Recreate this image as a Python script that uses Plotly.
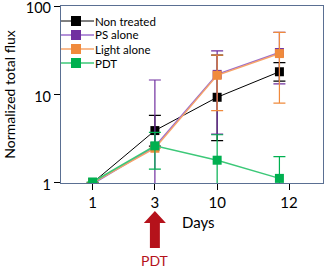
import plotly.graph_objects as go

days = ["1", "3", "10", "12"]
x_pos = [0, 1, 2, 3]
tick_pos = [0, 1, 2, 3.155]

non_treated = [1.0, 3.9, 9.3, 18.1]
non_treated_hi = [1.0, 5.8, 28.0, 23.0]
non_treated_lo = [1.0, 2.6, 3.0, 14.2]

ps_alone = [0.97, 2.57, 16.9, 29.9]
ps_alone_hi = [0.97, 14.6, 31.2, 50.5]
ps_alone_lo = [0.97, 0.9, 3.56, 13.2]

light_alone = [1.0, 2.46, 16.5, 29.1]
light_alone_hi = [1.0, 2.46, 27.9, 50.5]
light_alone_lo = [1.0, 2.46, 6.57, 8.0]

pdt = [1.02, 2.62, 1.80, 1.12]
pdt_hi = [1.02, 3.72, 3.5, 1.98]
pdt_lo = [1.02, 1.43, 0.9, 0.9]

series = [
    ("Non treated", non_treated, non_treated_hi, non_treated_lo, "#000000", "#000000", 1),
    ("PS alone", ps_alone, ps_alone_hi, ps_alone_lo, "#7030a0", "#9a6ccc", 1.5),
    ("Light alone", light_alone, light_alone_hi, light_alone_lo, "#f08a3c", "#f7a46a", 1.5),
    ("PDT", pdt, pdt_hi, pdt_lo, "#00b050", "#3cc878", 1.5),
]

fig = go.Figure()
for name, vals, hi, lo, mcol, lcol, lw in series:
    fig.add_trace(go.Scatter(
        x=x_pos, y=vals, name=name, mode="lines+markers",
        line=dict(color=lcol, width=lw),
        marker=dict(symbol="square", size=9, color=mcol),
        error_y=dict(type="data", symmetric=False,
                     array=[h - v for h, v in zip(hi, vals)],
                     arrayminus=[v - l for v, l in zip(vals, lo)],
                     color=mcol, thickness=1.2, width=6),
        showlegend=False,
    ))

# compact legend (rows 14 px apart) drawn in paper coordinates
plot_w, plot_h = 262, 177
for i, (name, vals, hi, lo, mcol, lcol, lw) in enumerate(series):
    ypx = 15 + 14 * i  # distance from plot top
    yp = 1 - ypx / plot_h
    fig.add_shape(type="line", xref="paper", yref="paper",
                  x0=0, x1=33 / plot_w, y0=yp, y1=yp,
                  line=dict(color=lcol, width=lw))
    fig.add_shape(type="rect", xref="paper", yref="paper",
                  x0=10 / plot_w, x1=20 / plot_w,
                  y0=yp - 5 / plot_h, y1=yp + 5 / plot_h,
                  fillcolor=mcol, line=dict(width=0))
    fig.add_annotation(text=name, xref="paper", yref="paper",
                       x=33 / plot_w, y=yp, xanchor="left", yanchor="middle",
                       showarrow=False, font=dict(size=11.5), borderpad=0)

frame = "#5a6f92"
fig.update_layout(
    width=325, height=270,
    margin=dict(l=61, r=2, t=6, b=87, autoexpand=False),
    paper_bgcolor="white", plot_bgcolor="white",
    font=dict(family="Lato, Open Sans, Arial, sans-serif", color="black"),
    showlegend=False,
    xaxis=dict(range=[-0.508, 3.70], tickvals=tick_pos, ticktext=days,
               automargin=False, ticklabeloverflow="allow",
               showgrid=False, zeroline=False, showline=True, mirror=True,
               linecolor=frame, linewidth=1.2, ticks="outside", ticklen=6,
               tickcolor="black", tickfont=dict(size=15)),
    yaxis=dict(type="log", range=[-0.003, 2.003], tickvals=[1, 10, 100],
               ticktext=["1", "10", "100"], showgrid=False, zeroline=False,
               automargin=False, ticklabeloverflow="allow", ticklabelshift=2,
               showline=True, mirror=True, linecolor=frame, linewidth=1.2,
               ticks="outside", ticklen=6, tickcolor="black",
               tickfont=dict(size=14.5),
               title=dict(text="Normalized total flux", font=dict(size=14), standoff=6)),
)

fig.add_annotation(text="Days", x=1.70, xref="x", y=-0.22, yref="paper",
                   showarrow=False, font=dict(size=15), xanchor="center", yanchor="middle")

red = "#b5121b"
# arrow shape pointing up at day 3
fig.add_shape(type="path", xref="x", yref="paper",
              path="M 1 -0.158 L 1.177 -0.226 L 1.08 -0.226 L 1.08 -0.367 "
                   "L 0.92 -0.367 L 0.92 -0.226 L 0.823 -0.226 Z",
              fillcolor=red, line=dict(width=0))
fig.add_annotation(text="PDT", x=1, xref="x", y=-0.44, yref="paper",
                   showarrow=False, font=dict(size=14, color=red),
                   xanchor="center", yanchor="middle")

fig.write_html("out.html", config={"displayModeBar": False},
               post_script="document.body.style.margin='0';")
